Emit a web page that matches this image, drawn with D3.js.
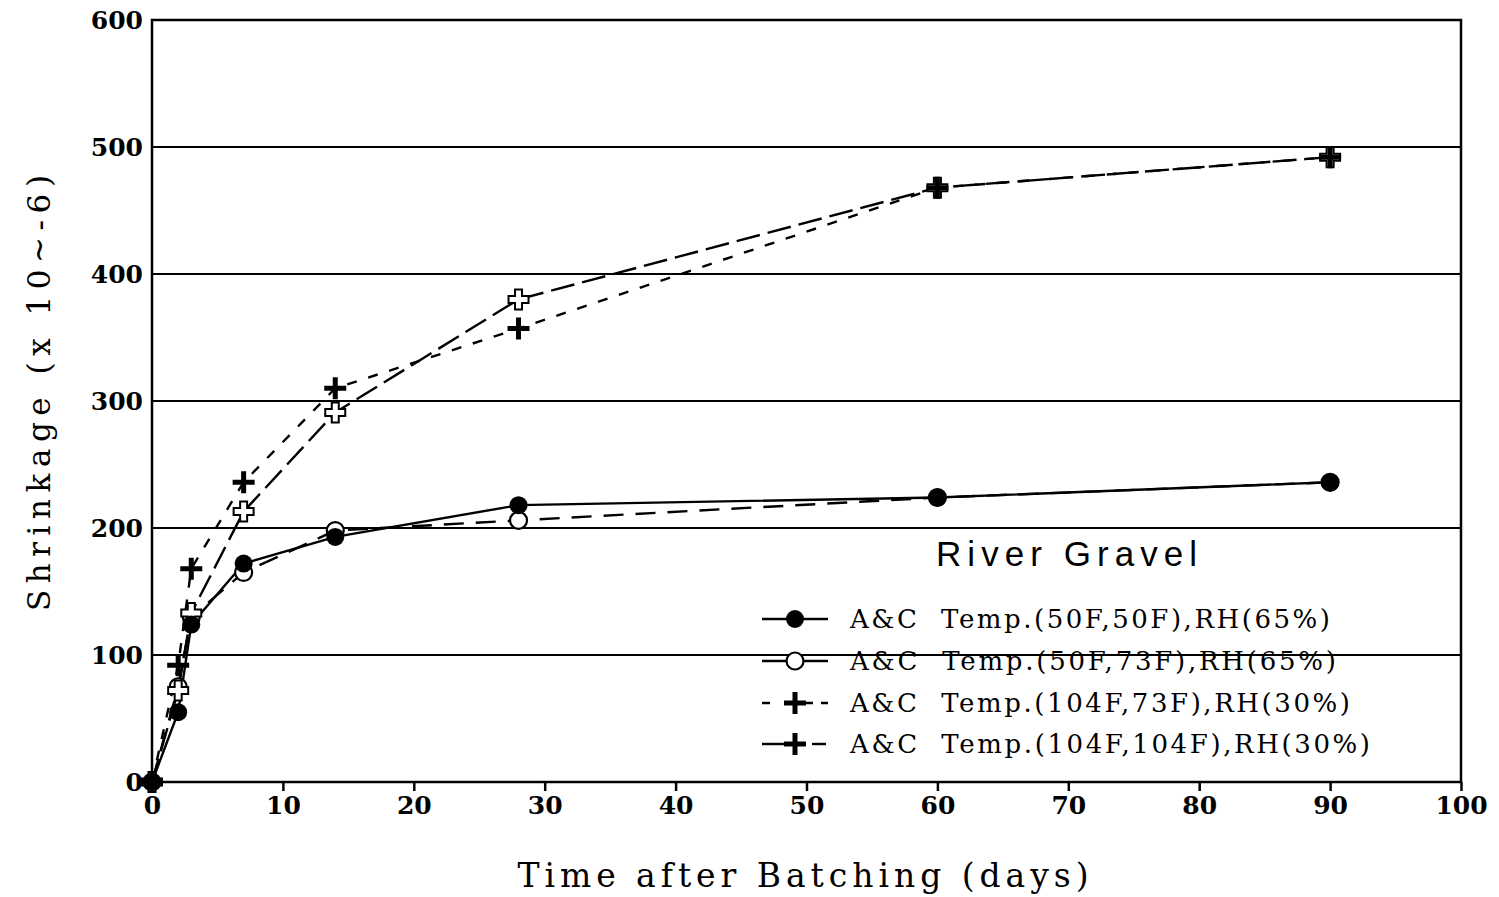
<!DOCTYPE html>
<html><head><meta charset="utf-8">
<script src="https://cdn.jsdelivr.net/npm/d3@7"></script>
<style>body{margin:0;background:#fff}svg{display:block}</style>
</head><body>
<svg id="c" width="1499" height="897"></svg>
<script>
const days = [0, 2, 3, 7, 14, 28, 60, 90];
const s1 = [0, 55, 124, 172, 193, 218, 224, 236]; // 50F,50F RH65 filled circle
const s2 = [0, 75, 130, 165, 198, 206, 224, 236]; // 50F,73F RH65 open circle
const s3 = [0, 92, 168, 236, 310, 357, 468, 492]; // 104F,73F RH30 plus
const s4 = [0, 72, 133, 213, 291, 380, 468, 492]; // 104F,104F RH30 outlined plus
const xTicks = [0,10,20,30,40,50,60,70,80,90,100];
const yTicks = [0,100,200,300,400,500,600];
const legendLabels = [
  "A&C  Temp.(50F,50F),RH(65%)",
  "A&C  Temp.(50F,73F),RH(65%)",
  "A&C  Temp.(104F,73F),RH(30%)",
  "A&C  Temp.(104F,104F),RH(30%)"
];

const svg = d3.select("#c");
const x = d3.scaleLinear().domain([0,100]).range([152,1461]);
const y = d3.scaleLinear().domain([0,600]).range([782,20]);
const serif = "'DejaVu Serif', 'Liberation Serif', serif";

// gridlines
svg.append("g").selectAll("line").data(yTicks.filter(v=>v>0 && v<600)).join("line")
  .attr("x1", x(0)).attr("x2", x(100)).attr("y1", d=>y(d)).attr("y2", d=>y(d))
  .attr("stroke","#000").attr("stroke-width",1.8);

// frame
svg.append("rect").attr("x",x(0)).attr("y",y(600)).attr("width",x(100)-x(0)).attr("height",y(0)-y(600))
  .attr("fill","none").attr("stroke","#000").attr("stroke-width",2.5);

// x axis
const xa = svg.append("g").attr("transform",`translate(0,${y(0)})`)
  .call(d3.axisBottom(x).tickValues(xTicks).tickSize(9).tickPadding(5).tickFormat(d3.format("d")));
xa.select(".domain").remove();
xa.selectAll("line").attr("stroke-width",2.5);
xa.selectAll("text").attr("font-family",serif).attr("font-weight","bold").attr("font-size",25).attr("fill","#000");

// y axis
const ya = svg.append("g").attr("transform",`translate(${x(0)},0)`)
  .call(d3.axisLeft(y).tickValues(yTicks).tickSize(0).tickPadding(9).tickFormat(d3.format("d")));
ya.select(".domain").remove();
ya.selectAll("text").attr("font-family",serif).attr("font-weight","bold").attr("font-size",25).attr("fill","#000");

// titles
svg.append("text").attr("transform","translate(50,393) rotate(-90)").attr("text-anchor","middle")
  .attr("font-family",serif).attr("font-size",31).attr("textLength",436).attr("lengthAdjust","spacing")
  .text("Shrinkage (x 10~-6)");
svg.append("text").attr("x",803).attr("y",887).attr("text-anchor","middle")
  .attr("font-family",serif).attr("font-size",33).attr("textLength",571).attr("lengthAdjust","spacing")
  .text("Time after Batching (days)");

// series
const series = [
  {v:s1, dash:null, marker:"fill"},
  {v:s2, dash:"20,12", marker:"open"},
  {v:s3, dash:"10,12", marker:"plus"},
  {v:s4, dash:"24,8", marker:"oplus"}
];
const line = d3.line().x(d=>x(d[0])).y(d=>y(d[1]));

function drawMarker(g, type, cx, cy) {
  if (type==="fill") {
    g.append("circle").attr("cx",cx).attr("cy",cy).attr("r",9).attr("fill","#000");
  } else if (type==="open") {
    g.append("circle").attr("cx",cx).attr("cy",cy).attr("r",8.5).attr("fill","#fff").attr("stroke","#000").attr("stroke-width",2.2);
  } else if (type==="plus") {
    g.append("path").attr("d",`M${cx-11},${cy}H${cx+11}M${cx},${cy-11}V${cy+11}`)
      .attr("stroke","#000").attr("stroke-width",5).attr("fill","none");
  } else {
    const a=3.5, b=10;
    g.append("path").attr("d",`M${cx-a},${cy-b}H${cx+a}V${cy-a}H${cx+b}V${cy+a}H${cx+a}V${cy+b}H${cx-a}V${cy+a}H${cx-b}V${cy-a}H${cx-a}Z`)
      .attr("stroke","#000").attr("stroke-width",2).attr("fill","#fff");
  }
}

series.forEach(s=>{
  svg.append("path").datum(days.map((d,i)=>[d,s.v[i]])).attr("d",line)
    .attr("fill","none").attr("stroke","#000").attr("stroke-width",2.4)
    .attr("stroke-dasharray",s.dash);
});
[1,3,0,2].forEach(k=>{
  const s=series[k];
  const g=svg.append("g");
  days.forEach((d,i)=>drawMarker(g,s.marker,x(d),y(s.v[i])));
});

// annotation
svg.append("text").attr("x",936).attr("y",566).attr("font-family","'Liberation Sans', Arial, sans-serif")
  .attr("font-size",35).attr("textLength",261).attr("lengthAdjust","spacing").text("River Gravel");

// legend
const lg = svg.append("g");
const rowsY = [619, 661, 703, 744];
const textLens = [480, 486, 500, 520];
legendLabels.forEach((lab,i)=>{
  const yy = rowsY[i];
  const g = lg.append("g");
  if (i===0 || i===1) {
    g.append("line").attr("x1",762).attr("x2",828).attr("y1",yy).attr("y2",yy).attr("stroke","#000").attr("stroke-width",2.4);
  } else if (i===2) {
    g.append("line").attr("x1",762).attr("x2",828).attr("y1",yy).attr("y2",yy).attr("stroke","#000").attr("stroke-width",2.4).attr("stroke-dasharray","8,15,0,20,8");
  } else {
    g.append("line").attr("x1",762).attr("x2",785).attr("y1",yy).attr("y2",yy).attr("stroke","#000").attr("stroke-width",2.4);
    g.append("line").attr("x1",812).attr("x2",826).attr("y1",yy).attr("y2",yy).attr("stroke","#000").attr("stroke-width",2.4);
  }
  drawMarker(g, series[i].marker === "oplus" ? "plus" : series[i].marker, 795, yy);
  g.append("text").attr("x",850).attr("y",yy+9).attr("font-family",serif).attr("font-size",26)
    .attr("textLength",textLens[i]).attr("lengthAdjust","spacing").style("white-space","pre").text(lab);
});
</script>
</body></html>
